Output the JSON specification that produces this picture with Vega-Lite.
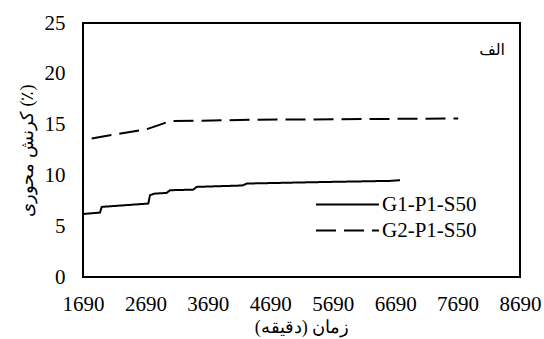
{
  "$schema": "https://vega.github.io/schema/vega-lite/v6.json",
  "width": 437,
  "height": 254,
  "autosize": {"type": "none"},
  "padding": {"left": 83, "top": 23, "right": 24, "bottom": 62},
  "background": "white",
  "config": {
    "view": {"stroke": "black", "strokeWidth": 2},
    "axisX": {"labelFont": "Liberation Serif", "labelFontSize": 21, "titleFont": "Liberation Serif", "titleFontSize": 18, "titleFontWeight": "normal"},
    "axisY": {"labelFont": "Liberation Serif", "labelFontSize": 21, "titleFont": "Liberation Serif", "titleFontSize": 18, "titleFontWeight": "normal"}
  },
  "data": {
    "values": [
      {"series": "G1-P1-S50", "time": 1690, "strain": 6.2},
      {"series": "G1-P1-S50", "time": 1962, "strain": 6.34},
      {"series": "G1-P1-S50", "time": 1990, "strain": 6.9},
      {"series": "G1-P1-S50", "time": 2736, "strain": 7.23},
      {"series": "G1-P1-S50", "time": 2763, "strain": 8.05},
      {"series": "G1-P1-S50", "time": 2827, "strain": 8.2},
      {"series": "G1-P1-S50", "time": 3030, "strain": 8.28},
      {"series": "G1-P1-S50", "time": 3083, "strain": 8.54},
      {"series": "G1-P1-S50", "time": 3457, "strain": 8.6},
      {"series": "G1-P1-S50", "time": 3511, "strain": 8.87},
      {"series": "G1-P1-S50", "time": 4205, "strain": 9.0},
      {"series": "G1-P1-S50", "time": 4258, "strain": 9.03},
      {"series": "G1-P1-S50", "time": 4312, "strain": 9.2},
      {"series": "G1-P1-S50", "time": 5647, "strain": 9.36},
      {"series": "G1-P1-S50", "time": 6608, "strain": 9.46},
      {"series": "G1-P1-S50", "time": 6768, "strain": 9.53},
      {"series": "G2-P1-S50", "time": 1829, "strain": 13.64},
      {"series": "G2-P1-S50", "time": 2710, "strain": 14.55},
      {"series": "G2-P1-S50", "time": 2880, "strain": 14.9},
      {"series": "G2-P1-S50", "time": 3080, "strain": 15.34},
      {"series": "G2-P1-S50", "time": 4500, "strain": 15.48},
      {"series": "G2-P1-S50", "time": 7700, "strain": 15.6},
      {"series": "note", "time": 8450, "strain": 22.3, "label": "الف"}
    ]
  },
  "encoding": {
    "x": {
      "field": "time",
      "type": "quantitative",
      "title": "زمان (دقیقه)",
      "scale": {"domain": [1690, 8690], "nice": false, "zero": false},
      "axis": {
        "values": [1690, 2690, 3690, 4690, 5690, 6690, 7690, 8690],
        "format": "d",
        "grid": false,
        "domain": false,
        "ticks": false,
        "labelOverlap": false,
        "labelFlush": false,
        "labelFont": "Liberation Serif",
        "labelFontSize": 21,
        "labelColor": "black",
        "labelPadding": 16,
        "titleFont": "Liberation Serif",
        "titleFontSize": 18,
        "titleFontWeight": "normal",
        "titleColor": "black",
        "titlePadding": 4
      }
    },
    "y": {
      "field": "strain",
      "type": "quantitative",
      "title": "کرنش محوری (٪)",
      "scale": {"domain": [0, 25], "nice": false},
      "axis": {
        "values": [0, 5, 10, 15, 20, 25],
        "format": "d",
        "grid": false,
        "domain": false,
        "ticks": false,
        "labelOverlap": false,
        "labelFont": "Liberation Serif",
        "labelFontSize": 21,
        "labelColor": "black",
        "labelPadding": 18,
        "titleFont": "Liberation Serif",
        "titleFontSize": 18,
        "titleFontWeight": "normal",
        "titleColor": "black",
        "titlePadding": 8
      }
    }
  },
  "layer": [
    {
      "transform": [{"filter": "datum.series != 'note'"}],
      "mark": {"type": "line", "color": "black", "strokeWidth": 2},
      "encoding": {
        "strokeDash": {
          "field": "series",
          "type": "nominal",
          "scale": {
            "domain": ["G1-P1-S50", "G2-P1-S50"],
            "range": [[1, 0], [20, 8]]
          },
          "legend": {
            "title": null,
            "orient": "none",
            "legendX": 274,
            "legendY": 170,
            "symbolType": "M-5,0H1",
            "symbolSize": 441,
            "symbolStrokeColor": "black",
            "symbolStrokeWidth": 2,
            "symbolFillColor": "transparent",
            "labelFont": "Liberation Serif",
            "labelFontSize": 21,
            "labelColor": "black",
            "labelOffset": 2,
            "rowPadding": 4
          }
        }
      }
    },
    {
      "transform": [{"filter": "datum.series == 'note'"}],
      "mark": {"type": "text", "align": "right", "baseline": "middle", "font": "DejaVu Sans", "fontSize": 16, "color": "black"},
      "encoding": {
        "text": {"field": "label"}
      }
    }
  ]
}
